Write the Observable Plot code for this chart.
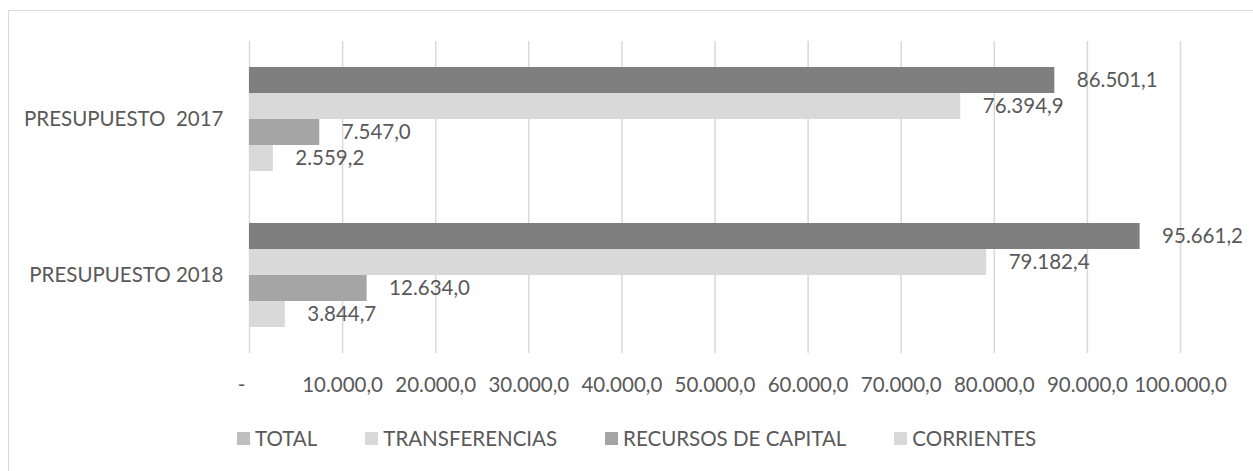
<!DOCTYPE html>
<html>
<head>
<meta charset="utf-8">
<script src="https://cdn.jsdelivr.net/npm/d3@7"></script>
<script src="https://cdn.jsdelivr.net/npm/@observablehq/plot@0.6"></script>
<style>
  html, body { margin: 0; padding: 0; background: #fff; overflow: hidden; }
  body { width: 1253px; height: 471px; position: relative; font-family: Lato, "DejaVu Sans", sans-serif; }
  #frame { position: absolute; left: 8px; top: 10px; width: 1300px; height: 520px; border-left: 1.5px solid #d9d9d9; border-top: 1.5px solid #d9d9d9; box-sizing: border-box; }
  #chart { position: absolute; left: 0; top: 0; }
  #chart svg text { white-space: pre; }
  #legend { position: absolute; left: 237px; top: 426px; display: flex; gap: 48px; font-size: 20.5px; line-height: 24px; color: #595959; }
  .item { display: flex; align-items: center; }
  .sw { width: 13px; height: 13px; margin-right: 5px; }
</style>
</head>
<body>
<div id="frame"></div>
<div id="chart"></div>
<div id="legend"></div>
<script>
// Data
const groups = ["PRESUPUESTO  2017", "PRESUPUESTO 2018"];
const series = ["TOTAL", "TRANSFERENCIAS", "RECURSOS DE CAPITAL", "CORRIENTES"];
const values2017 = [86501.1, 76394.9, 7547.0, 2559.2];
const values2018 = [95661.2, 79182.4, 12634.0, 3844.7];
const xTicks = [0, 10000, 20000, 30000, 40000, 50000, 60000, 70000, 80000, 90000, 100000];

// Styles
const barColors = ["#7f7f7f", "#d9d9d9", "#a5a5a5", "#d9d9d9"];
const legendColors = ["#bfbfbf", "#d9d9d9", "#a5a5a5", "#d9d9d9"];

const locale = d3.formatLocale({decimal: ",", thousands: ".", grouping: [3], currency: ["", "€"]});
const fmt = locale.format(",.1f");

const valuesByGroup = [values2017, values2018];
const data = groups.flatMap((g, i) => series.map((s, j) => ({group: g, series: s, value: valuesByGroup[i][j]})));

const chart = Plot.plot({
  width: 1253,
  height: 410,
  marginLeft: 249,
  marginRight: 73,
  marginTop: 40,
  marginBottom: 57,
  style: {fontFamily: "Lato, sans-serif", fontSize: "20.5px", color: "#595959", background: "transparent", overflow: "visible"},
  x: {domain: [0, 100000], ticks: xTicks, tickFormat: d => d === 0 ? "-   " : fmt(d), tickSize: 0, tickPadding: 24, label: null},
  y: {domain: series, axis: null, paddingInner: 0, paddingOuter: 0.925},
  fy: {domain: groups, padding: 0, axis: "left", tickSize: 0, tickPadding: 26, label: null},
  color: {domain: series, range: barColors},
  marks: [
    Plot.ruleX(xTicks, {stroke: "#d9d9d9", strokeWidth: 1.5}),
    Plot.barX(data, {x: "value", y: "series", fy: "group", fill: "series"}),
    Plot.text(data, {x: "value", y: "series", fy: "group", text: d => fmt(d.value), dx: 22, textAnchor: "start", fill: "#595959"})
  ]
});
document.getElementById("chart").appendChild(chart);

const legend = document.getElementById("legend");
series.forEach((s, i) => {
  const item = document.createElement("div");
  item.className = "item";
  const sw = document.createElement("span");
  sw.className = "sw";
  sw.style.background = legendColors[i];
  const t = document.createElement("span");
  t.textContent = s;
  item.appendChild(sw);
  item.appendChild(t);
  legend.appendChild(item);
});
</script>
</body>
</html>
